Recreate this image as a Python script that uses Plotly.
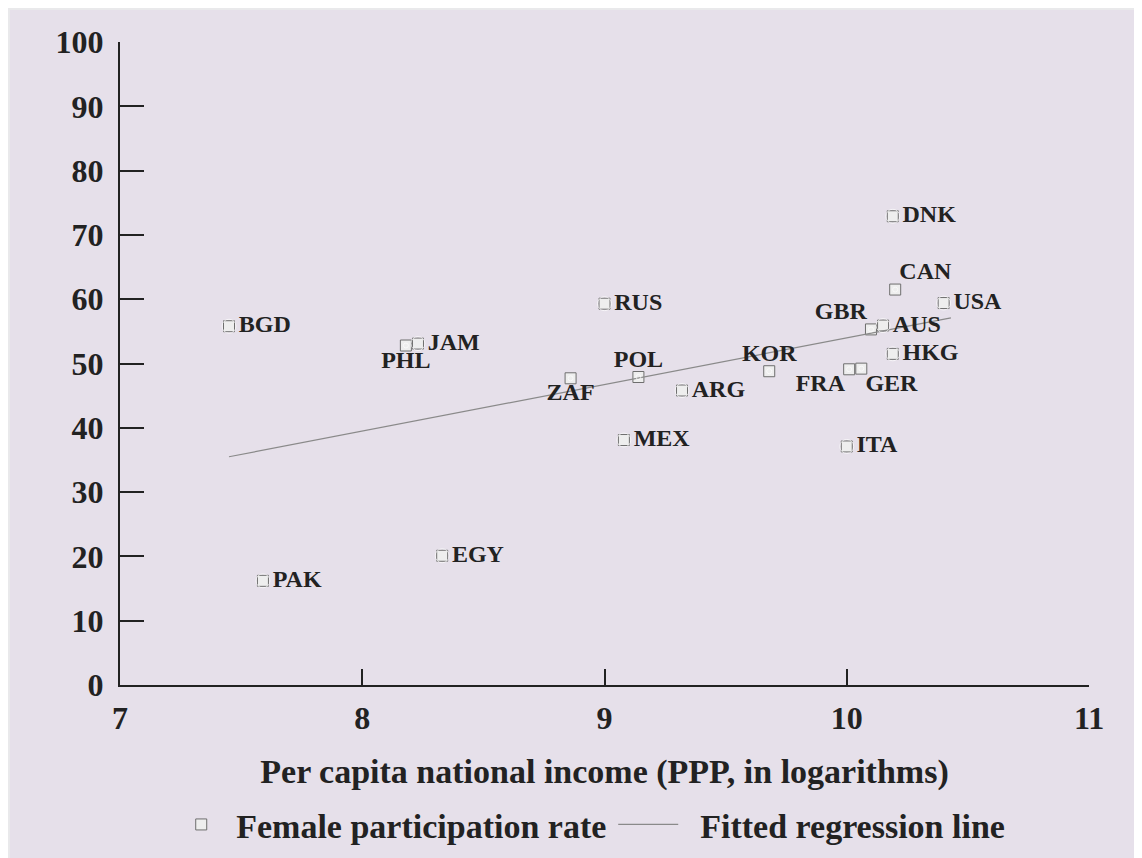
import plotly.graph_objects as go

# valores
paises = ['BGD', 'PAK', 'PHL', 'JAM', 'EGY', 'ZAF', 'RUS', 'POL', 'MEX', 'ARG',
          'KOR', 'ITA', 'FRA', 'GER', 'GBR', 'AUS', 'HKG', 'CAN', 'DNK', 'USA']
renda_log = [7.45, 7.59, 8.18, 8.23, 8.33, 8.86, 9.00, 9.14, 9.08, 9.32,
             9.68, 10.00, 10.01, 10.06, 10.10, 10.15, 10.19, 10.20, 10.19, 10.40]
participacao = [55.8, 16.2, 52.8, 53.1, 20.1, 47.7, 59.3, 47.9, 38.1, 45.8,
                48.8, 37.1, 49.1, 49.2, 55.3, 55.9, 51.5, 61.5, 72.9, 59.4]

# reta de regressão (extremos)
reta_x = [7.45, 10.43]
reta_y = [35.5, 57.1]

# posição dos rótulos
pos_rotulo = ['middle right', 'middle right', 'bottom center', 'middle right', 'middle right',
              'bottom center', 'middle right', 'top center', 'middle right', 'middle right',
              'top center', 'middle right', 'bottom left', 'bottom right', 'top left',
              'middle right', 'middle right', 'top right', 'middle right', 'middle right']
# afastamento do texto (rótulos acima/abaixo ficam mais perto)
afastamento = [14 if p == 'middle right' else 5 for p in pos_rotulo]

fonte = 'Liberation Serif'
lavanda = '#e6e0ea'
preto = '#222222'

fig = go.Figure()

fig.add_trace(go.Scatter(
    x=renda_log, y=participacao, mode='markers',
    name='Female participation rate',
    marker=dict(symbol='square', size=11, color='#eeeeee',
                line=dict(color='#6e6e6e', width=1))
))

fig.add_trace(go.Scatter(
    x=reta_x, y=reta_y, mode='lines',
    name='\u00a0\u00a0Fitted regression line',
    line=dict(color='#8a8a8a', width=1.2)
))

# rótulos: marcador invisível só para afastar o texto do quadrado
fig.add_trace(go.Scatter(
    x=renda_log, y=participacao, mode='markers+text',
    text=paises, textposition=pos_rotulo,
    marker=dict(size=afastamento, color='rgba(0,0,0,0)'),
    textfont=dict(family=fonte, size=24, color=preto, weight='bold'),
    showlegend=False, hoverinfo='skip'
))

# moldura lavanda
fig.add_shape(type='rect', xref='paper', yref='paper',
              x0=-0.1135, x1=1.06, y0=-0.28, y1=1.0498,
              fillcolor=lavanda, line=dict(width=0), layer='below')

fig.update_layout(
    width=1134, height=850,
    margin=dict(l=112, r=53, t=34, b=173),
    paper_bgcolor='#e9e9eb',
    plot_bgcolor=lavanda,
    font=dict(family=fonte, size=32, color=preto, weight='bold'),
    legend=dict(orientation='h', x=0.509, xanchor='center',
                yref='container', y=0.039, yanchor='middle',
                font=dict(family=fonte, size=34, color=preto, weight='bold'),
                entrywidth=372, itemwidth=60, bgcolor='rgba(0,0,0,0)'),
    showlegend=True
)

fig.update_xaxes(
    range=[7, 11], tickvals=[7, 8, 9, 10, 11],
    showgrid=False, zeroline=False, automargin=False,
    showline=True, linecolor=preto, linewidth=2,
    ticks='inside', ticklen=16, tickwidth=2, tickcolor=preto,
    ticklabelstandoff=4,
    tickfont=dict(family=fonte, size=32, color=preto, weight='bold'),
    title=dict(text='Per capita national income (PPP, in logarithms)',
               font=dict(family=fonte, size=34, color=preto, weight='bold'), standoff=24)
)
fig.update_yaxes(
    range=[0, 100], tickvals=list(range(0, 101, 10)),
    showgrid=False, zeroline=False, automargin=False,
    showline=True, linecolor=preto, linewidth=2,
    ticks='inside', ticklen=24, tickwidth=2, tickcolor=preto,
    ticklabelstandoff=8,
    tickfont=dict(family=fonte, size=32, color=preto, weight='bold')
)

fig.write_html('out.html')
